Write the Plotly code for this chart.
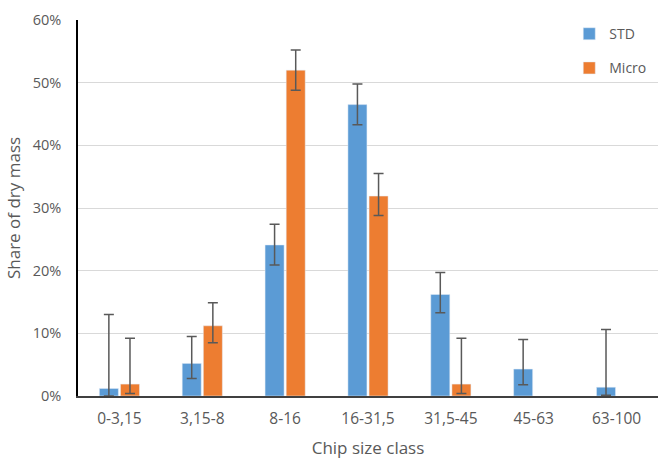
import plotly.graph_objects as go

categories = ["0-3,15", "3,15-8", "8-16", "16-31,5", "31,5-45", "45-63", "63-100"]
std_values = [1.2, 5.2, 24.1, 46.5, 16.2, 4.3, 1.4]
std_err_plus = [11.8, 4.3, 3.3, 3.3, 3.5, 4.7, 9.2]
std_err_minus = [1.2, 2.4, 3.2, 3.2, 2.9, 2.5, 1.3]
micro_values = [1.9, 11.2, 52.0, 31.9, 1.9, None, None]
micro_err_plus = [7.3, 3.7, 3.2, 3.6, 7.3, None, None]
micro_err_minus = [1.5, 2.7, 3.2, 3.1, 1.5, None, None]
y_ticks = [0, 10, 20, 30, 40, 50, 60]
y_tick_labels = ["0%", "10%", "20%", "30%", "40%", "50%", "60%"]

FONT = "Open Sans"
GREY = "#595959"

fig = go.Figure()
fig.add_trace(go.Bar(
    name="STD", x=categories, y=std_values,
    marker=dict(color="#5B9BD5"),
    error_y=dict(type="data", symmetric=False, array=std_err_plus,
                 arrayminus=std_err_minus, color="#595959", thickness=1.5, width=5),
    legendgroup="a",
))
fig.add_trace(go.Bar(
    name="Micro", x=categories, y=micro_values,
    marker=dict(color="#ED7D31"),
    error_y=dict(type="data", symmetric=False, array=micro_err_plus,
                 arrayminus=micro_err_minus, color="#595959", thickness=1.5, width=5),
    legendgroup="b",
))

fig.update_layout(
    width=659, height=459,
    margin=dict(l=78, r=1, t=20, b=63, autoexpand=False),
    paper_bgcolor="white", plot_bgcolor="white",
    barmode="group", bargap=0.49, bargroupgap=0.1,
    font=dict(family=FONT, size=14, color=GREY),
    legend=dict(x=0.847, y=1.005, xanchor="left", yanchor="top",
                tracegroupgap=13, font=dict(size=14, color=GREY),
                bgcolor="rgba(0,0,0,0)"),
    xaxis=dict(
        title=dict(text="Chip size class", font=dict(size=17, color=GREY), standoff=20),
        showline=True, linecolor="#404040", linewidth=1.5,
        tickfont=dict(size=15.5, color=GREY), ticks="",
        ticklabelstandoff=8, automargin=False,
    ),
    yaxis=dict(
        title=dict(text="Share of dry mass", font=dict(size=17, color=GREY), standoff=8),
        range=[0, 60], tickvals=y_ticks, ticktext=y_tick_labels,
        showline=True, linecolor="#000000", linewidth=1.5,
        gridcolor="#D9D9D9", gridwidth=1, zeroline=False,
        tickfont=dict(size=14.5, color=GREY), ticks="",
        ticklabelstandoff=12, automargin=False,
    ),
)

fig.write_html("out.html", config={"displayModeBar": False},
               post_script="document.body.style.margin='0';")
